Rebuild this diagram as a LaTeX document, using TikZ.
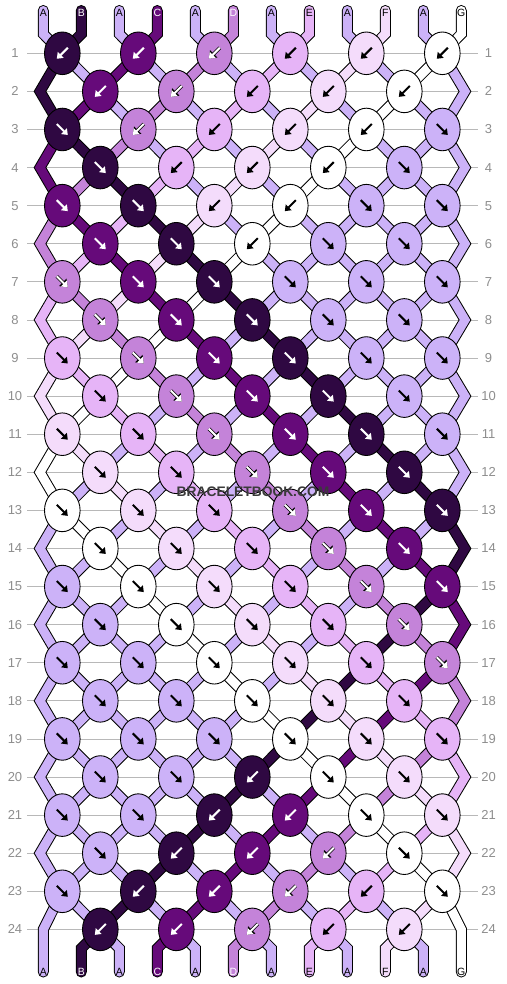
\documentclass[tikz,border=0pt]{standalone}
\usepackage{fontspec}
\setmainfont{Liberation Sans}
\usetikzlibrary{arrows.meta,shapes.geometric}
\definecolor{ck}{HTML}{2F0842}
\definecolor{cp}{HTML}{660A7A}
\definecolor{cm}{HTML}{C483D9}
\definecolor{cl}{HTML}{E6B4F7}
\definecolor{cf}{HTML}{F4DCFB}
\definecolor{cw}{HTML}{FFFFFF}
\definecolor{cv}{HTML}{CCB2F8}
\definecolor{numgray}{HTML}{8E8E8E}
\definecolor{guidegray}{HTML}{B8B8B8}
\definecolor{wmgray}{HTML}{3A3A3A}
\pgfdeclarelayer{paper}
\pgfdeclarelayer{grid}
\pgfdeclarelayer{str}
\pgfsetlayers{paper,grid,str,main}
\tikzset{
  knot/.style={ellipse, draw=black, line width=0.9pt, minimum width=35.6pt, minimum height=42.6pt, inner sep=0pt},
  strand/.style={draw=black, line width=1pt, double distance=9pt, line join=miter},
  arr/.style={line width=2pt, -{Triangle[length=5.5pt,width=8pt]}},
  ar-k/.style={arr, draw=white},
  ar-p/.style={arr, draw=white},
  ar-m/.style={arr, draw=white, preaction={draw=black, line width=3.4pt, -{Triangle[length=7pt,width=10pt]}}},
  ar-l/.style={arr, draw=black},
  ar-f/.style={arr, draw=black},
  ar-w/.style={arr, draw=black},
  ar-v/.style={arr, draw=black},
  lab/.style={font=\fontsize{10.5}{10.5}\selectfont, inner sep=0pt},
  rowno/.style={font=\fontsize{13}{13}\selectfont, text=numgray, inner sep=0pt},
  guide/.style={draw=guidegray, line width=0.8pt},
  watermark/.style={font=\bfseries\fontsize{13.8}{13.8}\selectfont, text=wmgray, inner sep=0pt}
}
\begin{document}
\begin{tikzpicture}[x=1pt,y=-1pt]
\begin{pgfonlayer}{paper}
\fill[white] (0,0) rectangle (506,984);
\end{pgfonlayer}
\useasboundingbox (0,0) rectangle (506,984);

% row guides and numbers
\foreach \rr in {1,...,24} {
  \pgfmathsetmacro\yy{53.3+38.09*(\rr-1)}
  \node[rowno] (nl-\rr) at (15,\yy) {\rr};
  \node[rowno] (nr-\rr) at (488.5,\yy) {\rr};
  \coordinate (gl-\rr) at (27,\yy);
  \coordinate (gr-\rr) at (478,\yy);
  \begin{pgfonlayer}{grid}
    \draw[guide] (gl-\rr) -- (gr-\rr);
  \end{pgfonlayer}
}

% knots
\foreach \rr/\lst in {
  1/{k/B,p/B,m/B,l/B,f/B,w/B},
  2/{p/B,m/B,l/B,f/B,w/B},
  3/{k/F,m/B,l/B,f/B,w/B,v/F},
  4/{k/F,l/B,f/B,w/B,v/F},
  5/{p/F,k/F,f/B,w/B,v/F,v/F},
  6/{p/F,k/F,w/B,v/F,v/F},
  7/{m/F,p/F,k/F,v/F,v/F,v/F},
  8/{m/F,p/F,k/F,v/F,v/F},
  9/{l/F,m/F,p/F,k/F,v/F,v/F},
  10/{l/F,m/F,p/F,k/F,v/F},
  11/{f/F,l/F,m/F,p/F,k/F,v/F},
  12/{f/F,l/F,m/F,p/F,k/F},
  13/{w/F,f/F,l/F,m/F,p/F,k/F},
  14/{w/F,f/F,l/F,m/F,p/F},
  15/{v/F,w/F,f/F,l/F,m/F,p/F},
  16/{v/F,w/F,f/F,l/F,m/F},
  17/{v/F,v/F,w/F,f/F,l/F,m/F},
  18/{v/F,v/F,w/F,f/F,l/F},
  19/{v/F,v/F,v/F,w/F,f/F,l/F},
  20/{v/F,v/F,k/B,w/F,f/F},
  21/{v/F,v/F,k/B,p/B,w/F,f/F},
  22/{v/F,k/B,p/B,m/B,w/F},
  23/{v/F,k/B,p/B,m/B,l/B,w/F},
  24/{k/B,p/B,m/B,l/B,f/B}} {
  \pgfmathsetmacro\yy{53.3+38.09*(\rr-1)}
  \pgfmathsetmacro\xo{isodd(\rr) ? 62.3 : 100.3}
  \foreach \kc/\kd [count=\jj] in \lst {
    \node[knot, fill=c\kc] (k-\rr-\jj) at ({\xo+76*(\jj-1)},\yy) {};
    \if\kd B
      \draw[ar-\kc] ([shift={(5.5,-5.5)}]k-\rr-\jj.center) -- ([shift={(-5.5,5.5)}]k-\rr-\jj.center);
    \else
      \draw[ar-\kc] ([shift={(-5.5,-5.5)}]k-\rr-\jj.center) -- ([shift={(5.5,5.5)}]k-\rr-\jj.center);
    \fi
  }
}

% inner strands between knots
\begin{pgfonlayer}{str}
\foreach \rr/\st in {
  1/{k,v,p,v,m,v,l,v,f,v,w,v},
  2/{k,p,v,m,v,l,v,f,v,w,v,v},
  3/{p,k,m,v,l,v,f,v,w,v,v,v},
  4/{p,m,k,l,v,f,v,w,v,v,v,v},
  5/{m,p,l,k,f,v,w,v,v,v,v,v},
  6/{m,l,p,f,k,w,v,v,v,v,v,v},
  7/{l,m,f,p,w,k,v,v,v,v,v,v},
  8/{l,f,m,w,p,v,k,v,v,v,v,v},
  9/{f,l,w,m,v,p,v,k,v,v,v,v},
  10/{f,w,l,v,m,v,p,v,k,v,v,v},
  11/{w,f,v,l,v,m,v,p,v,k,v,v},
  12/{w,v,f,v,l,v,m,v,p,v,k,v},
  13/{v,w,v,f,v,l,v,m,v,p,v,k},
  14/{v,v,w,v,f,v,l,v,m,v,p,k},
  15/{v,v,v,w,v,f,v,l,v,m,k,p},
  16/{v,v,v,v,w,v,f,v,l,k,m,p},
  17/{v,v,v,v,v,w,v,f,k,l,p,m},
  18/{v,v,v,v,v,v,w,k,f,p,l,m},
  19/{v,v,v,v,v,v,k,w,p,f,m,l},
  20/{v,v,v,v,v,k,v,p,w,m,f,l},
  21/{v,v,v,v,k,v,p,v,m,w,l,f},
  22/{v,v,v,k,v,p,v,m,v,l,w,f},
  23/{v,v,k,v,p,v,m,v,l,v,f,w}} {
  \pgfmathtruncatemacro\rn{\rr+1}
  \foreach \cc [count=\si] in \st {
    \ifnum\si>1 \ifnum\si<12
      \pgfmathtruncatemacro\ja{isodd(\rr) ? int((\si+1)/2) : int(\si/2)}
      \pgfmathtruncatemacro\jb{isodd(\rn) ? int((\si+1)/2) : int(\si/2)}
      \draw[strand, double=c\cc] (k-\rr-\ja.center) -- (k-\rn-\jb.center);
    \fi\fi
  }
}
\end{pgfonlayer}

% edge strands
\foreach \rr/\cl/\cr in {2/k/v,4/p/v,6/m/v,8/l/v,10/f/v,12/w/v,14/v/k,16/v/p,18/v/m,20/v/l,22/v/f} {
  \pgfmathsetmacro\yy{53.3+38.09*(\rr-1)}
  \pgfmathtruncatemacro\ra{\rr-1}
  \pgfmathtruncatemacro\rb{\rr+1}
  \coordinate (eL-\rr) at (40,\yy);
  \coordinate (eR-\rr) at (465,\yy);
  \begin{pgfonlayer}{str}
    \draw[strand, double=c\cl] (k-\ra-1.center) -- (eL-\rr) -- (k-\rb-1.center);
    \draw[strand, double=c\cr] (k-\ra-6.center) -- (eR-\rr) -- (k-\rb-6.center);
  \end{pgfonlayer}
}

% top and bottom string ends with labels
\foreach \cc/\tx/\tc [count=\si] in {v/A/black,k/B/white,v/A/black,p/C/white,v/A/black,m/D/white,v/A/black,l/E/black,v/A/black,f/F/black,v/A/black,w/G/black} {
  \pgfmathsetmacro\xx{43.3+38*(\si-1)}
  \pgfmathtruncatemacro\jt{int((\si+1)/2)}
  \pgfmathtruncatemacro\jb{int(\si/2)}
  \coordinate (ts-\si) at (\xx,10.5);
  \coordinate (tb-\si) at (\xx,34);
  \coordinate (be-\si) at (\xx,972);
  \ifnum\si=1
    \coordinate (bb-\si) at (\xx,929.37);
    \def\bstart{k-23-1}
  \else\ifnum\si=12
    \coordinate (bb-\si) at (\xx,929.37);
    \def\bstart{k-23-6}
  \else
    \coordinate (bb-\si) at (\xx,948.4);
    \edef\bstart{k-24-\jb}
  \fi\fi
  \begin{pgfonlayer}{str}
    \draw[strand, double=c\cc, line cap=round] (ts-\si) -- (tb-\si) -- (k-1-\jt.center);
    \draw[strand, double=c\cc, line cap=round] (\bstart.center) -- (bb-\si) -- (be-\si);
  \end{pgfonlayer}
  \node[lab, text=\tc] (top-\si) at (\xx,12.5) {\tx};
  \node[lab, text=\tc] (bot-\si) at (\xx,971.5) {\tx};
}

\node[watermark] (wm) at (253,491.7) {BRACELETBOOK.COM};
\end{tikzpicture}
\end{document}
